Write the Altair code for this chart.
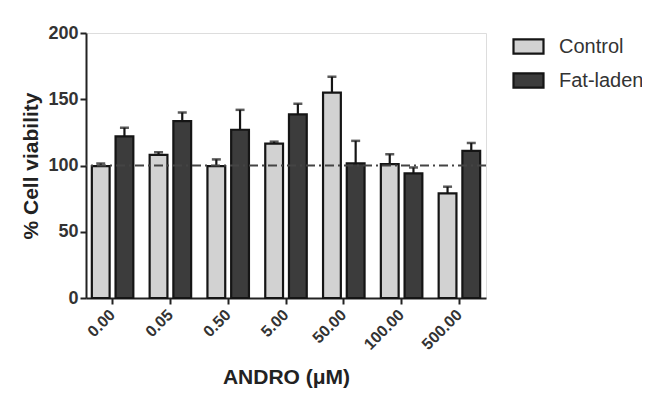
import altair as alt
import pandas as pd

doses = ["0.00", "0.05", "0.50", "5.00", "50.00", "100.00", "500.00"]
groups = ["Control", "Fat-laden"]
control_mean = [99.5, 108, 99.6, 116.5, 155, 101, 79]
control_err = [2, 2, 5, 1.5, 12, 7.5, 5]
fat_mean = [122, 133.5, 127, 138.6, 101.6, 94, 111]
fat_err = [6.5, 6.5, 15, 8, 17, 4.5, 6]

rows = []
for i, d in enumerate(doses):
    rows.append({"dose": d, "group": "Control", "mean": control_mean[i], "top": control_mean[i] + control_err[i]})
    rows.append({"dose": d, "group": "Fat-laden", "mean": fat_mean[i], "top": fat_mean[i] + fat_err[i]})
df = pd.DataFrame(rows)

FONT = "Liberation Sans"

x_enc = alt.X("dose:N", sort=doses,
              scale=alt.Scale(paddingInner=0.2, paddingOuter=0.06),
              axis=alt.Axis(title="ANDRO (μM)", labelAngle=-45, labelAlign="right",
                            labelBaseline="middle", labelFontWeight="bold", labelFontSize=16,
                            labelColor="#333", labelPadding=8,
                            titleFontSize=21, titleFontWeight="bold", titleColor="#222",
                            titlePadding=14,
                            domainColor="#222", domainWidth=2, tickColor="#222",
                            tickWidth=2, tickSize=6))
xo_enc = alt.XOffset("group:N", sort=groups,
                     scale=alt.Scale(paddingInner=0.25, paddingOuter=0.1))

bars = alt.Chart(df).mark_bar(stroke="#151515", strokeWidth=2.2).encode(
    x=x_enc,
    xOffset=xo_enc,
    y=alt.Y("mean:Q", scale=alt.Scale(domain=[0, 200]),
            axis=alt.Axis(title="% Cell viability", values=[0, 50, 100, 150, 200],
                          labelFontWeight="bold", labelFontSize=18, labelColor="#333",
                          labelPadding=2,
                          titleFontSize=21, titleFontWeight="bold", titleColor="#222",
                          titlePadding=6, grid=False,
                          domainColor="#222", domainWidth=2, tickColor="#222",
                          tickWidth=2, tickSize=6)),
    fill=alt.Fill("group:N", sort=groups,
                  scale=alt.Scale(domain=groups, range=["#d2d2d2", "#3c3c3c"]),
                  legend=alt.Legend(title=None, orient="none", legendX=426, legendY=-3,
                                    symbolType="M-1,-0.48H1V0.48H-1Z", symbolSize=900,
                                    symbolStrokeColor="#151515", symbolStrokeWidth=2.2,
                                    labelFontSize=20, labelColor="#333", labelOffset=14,
                                    rowPadding=5)),
)

err = alt.Chart(df).mark_rule(color="#151515", strokeWidth=2.2).encode(
    x=alt.X("dose:N", sort=doses),
    xOffset=alt.XOffset("group:N", sort=groups),
    y="mean:Q",
    y2="top:Q",
)

caps = alt.Chart(df).mark_tick(color="#151515", thickness=2.5, size=9, orient="horizontal").encode(
    x=alt.X("dose:N", sort=doses),
    xOffset=alt.XOffset("group:N", sort=groups),
    y="top:Q",
)

ref = alt.Chart(pd.DataFrame({"v": [100]})).mark_rule(
    color="#444", strokeWidth=2, strokeDash=[9, 4, 2, 4]
).encode(y="v:Q")

chart = alt.layer(bars, err, caps, ref).properties(
    width=400, height=265,
    autosize=alt.AutoSizeParams(type="none"),
    padding={"left": 78, "top": 25, "right": 156, "bottom": 94},
).configure_view(stroke=None).configure(font=FONT)

chart.save("out.html", embed_options={"renderer": "svg", "actions": False})
